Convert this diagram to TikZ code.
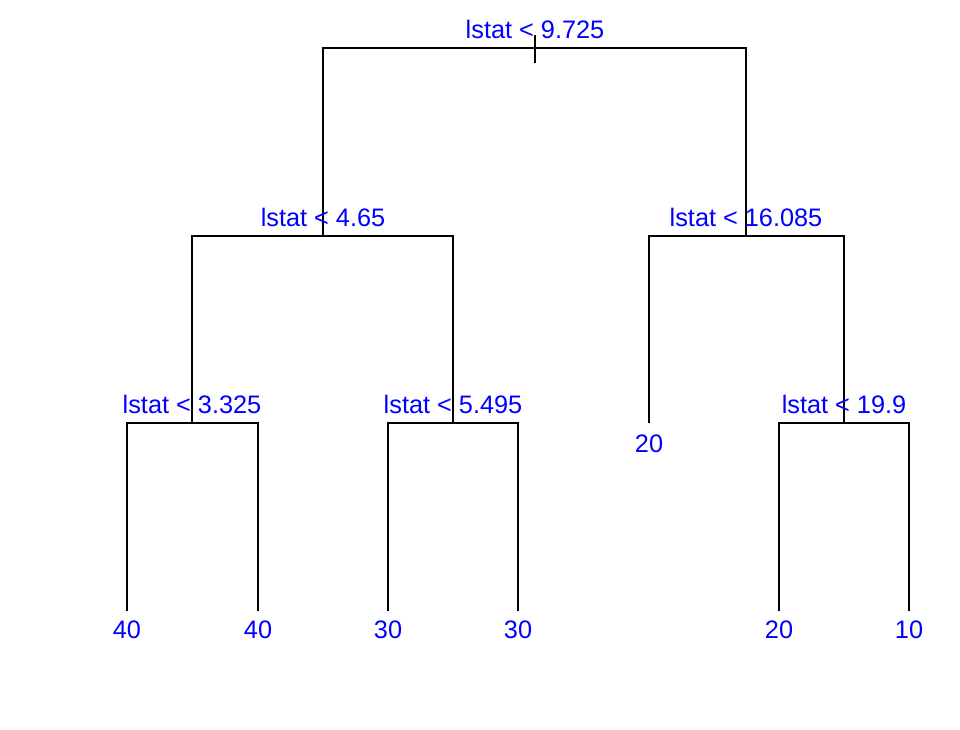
\documentclass[tikz,border=0pt]{standalone}
\usepackage{fontspec}
\setmainfont{Liberation Sans}
\begin{document}
\begin{tikzpicture}[x=1pt,y=-1pt,line width=2.4pt,
    lab/.style={text=blue,anchor=base,inner sep=0pt,font=\fontsize{25.3}{29}\selectfont}]
    	\useasboundingbox (0,0) rectangle (960,729);
    	\coordinate (n1) at (535,48);
    	\coordinate (n2) at (323,236);
    	\coordinate (n3) at (746,236);
    	\coordinate (n4) at (192,423);
    	\coordinate (n5) at (453,423);
    	\coordinate (n6) at (649,423);
    	\coordinate (n7) at (844,423);
    	\coordinate (n8) at (127,611);
    	\coordinate (n9) at (258,611);
    	\coordinate (n10) at (388,611);
    	\coordinate (n11) at (518,611);
    	\coordinate (n14) at (779,611);
    	\coordinate (n15) at (909,611);

    	\draw ([yshift=13pt]n1) -- ([yshift=-15pt]n1);
    	\draw (n2) |- (n1) -| (n3);
    	\draw (n4) |- (n2) -| (n5);
    	\draw (n6) |- (n3) -| (n7);
    	\draw (n8) |- (n4) -| (n9);
    	\draw (n10) |- (n5) -| (n11);
    	\draw (n14) |- (n7) -| (n15);

    	\node[lab] (t1) at ([yshift=10pt]n1) {lstat < 9.725};
    	\node[lab] (t2) at ([yshift=10pt]n2) {lstat < 4.65};
    	\node[lab] (t3) at ([yshift=10pt]n3) {lstat < 16.085};
    	\node[lab] (t4) at ([yshift=10pt]n4) {lstat < 3.325};
    	\node[lab] (t5) at ([yshift=10pt]n5) {lstat < 5.495};
    	\node[lab] (t7) at ([yshift=10pt]n7) {lstat < 19.9};

    	\node[lab] (l6) at ([yshift=-29pt]n6) {20};
    	\node[lab] (l8) at ([yshift=-27pt]n8) {40};
    	\node[lab] (l9) at ([yshift=-27pt]n9) {40};
    	\node[lab] (l10) at ([yshift=-27pt]n10) {30};
    	\node[lab] (l11) at ([yshift=-27pt]n11) {30};
    	\node[lab] (l14) at ([yshift=-27pt]n14) {20};
    	\node[lab] (l15) at ([yshift=-27pt]n15) {10};
\end{tikzpicture}
\end{document}
